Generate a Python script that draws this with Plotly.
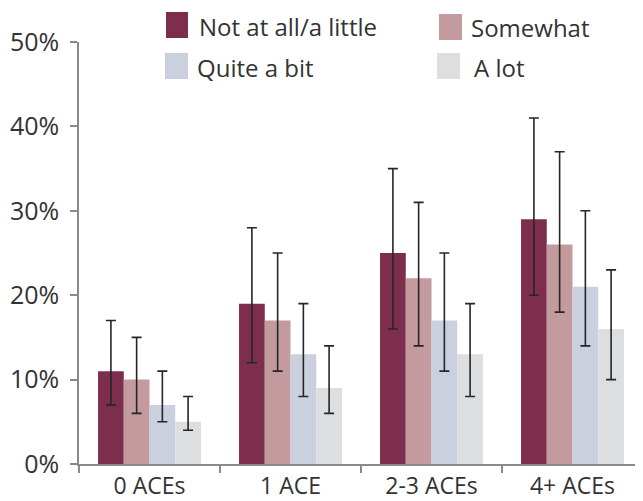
import plotly.graph_objects as go

categories = ["0 ACEs", "1 ACE", "2-3 ACEs", "4+ ACEs"]
series_names = ["Not at all/a little", "Somewhat", "Quite a bit", "A lot"]
colors = ["#7D2E4D", "#C39A9E", "#CAD0DE", "#DDDEE0"]

not_at_all = [11, 19, 25, 29]
not_at_all_hi = [17, 28, 35, 41]
not_at_all_lo = [7, 12, 16, 20]

somewhat = [10, 17, 22, 26]
somewhat_hi = [15, 25, 31, 37]
somewhat_lo = [6, 11, 14, 18]

quite_a_bit = [7, 13, 17, 21]
quite_a_bit_hi = [11, 19, 25, 30]
quite_a_bit_lo = [5, 8, 11, 14]

a_lot = [5, 9, 13, 16]
a_lot_hi = [8, 14, 19, 23]
a_lot_lo = [4, 6, 8, 10]

values = [not_at_all, somewhat, quite_a_bit, a_lot]
highs = [not_at_all_hi, somewhat_hi, quite_a_bit_hi, a_lot_hi]
lows = [not_at_all_lo, somewhat_lo, quite_a_bit_lo, a_lot_lo]

y_ticks = [0, 10, 20, 30, 40, 50]
y_tick_labels = ["0%", "10%", "20%", "30%", "40%", "50%"]

FONT = "Open Sans"
TXT = "#333333"
AX = "#8a8a8a"

# page body has an 8px margin; figure is sized to fit the 643x501 window
OFF = 8
W, H = 643 - OFF, 501 - OFF
ML = 79 - OFF
MT = 42 - OFF
PW = 564
PH = 422
MR = W - ML - PW
MB = H - MT - PH


def px(x):
    return (x - OFF - ML) / PW


def py(y):
    return (MT + PH - (y - OFF)) / PH


fig = go.Figure()
for name, col, v, hi, lo in zip(series_names, colors, values, highs, lows):
    fig.add_trace(go.Bar(
        x=categories, y=v, name=name,
        marker=dict(color=col, line=dict(width=0)),
        error_y=dict(type="data", symmetric=False,
                     array=[h - a for h, a in zip(hi, v)],
                     arrayminus=[a - l for a, l in zip(v, lo)],
                     color="#262626", thickness=1.6, width=5),
        showlegend=False,
    ))

# manual legend (swatch boxes in reference pixels)
legend_items = [
    (series_names[0], colors[0], 166, 12, 188, 38, 197),
    (series_names[1], colors[1], 439, 14, 462, 40, 469),
    (series_names[2], colors[2], 165, 53, 188, 79, 195),
    (series_names[3], colors[3], 437, 53, 460, 79, 472),
]
shapes = []
annotations = []
for name, col, x0, y0, x1, y1, tx in legend_items:
    shapes.append(dict(type="rect", xref="paper", yref="paper",
                       x0=px(x0), x1=px(x1), y0=py(y1), y1=py(y0),
                       fillcolor=col, line=dict(width=0)))
    annotations.append(dict(xref="paper", yref="paper", x=px(tx), y=py((y0 + y1) / 2 + 1),
                            text=name, showarrow=False, xanchor="left", yanchor="middle",
                            font=dict(family=FONT, size=24, color=TXT)))

fig.update_layout(
    width=W, height=H,
    margin=dict(l=ML, r=MR, t=MT, b=MB, autoexpand=False),
    paper_bgcolor="white", plot_bgcolor="white",
    barmode="group", bargap=0.27, bargroupgap=0,
    font=dict(family=FONT, size=24, color=TXT),
    shapes=shapes, annotations=annotations,
    xaxis=dict(
        showline=True, linecolor=AX, linewidth=1.5,
        ticks="outside", tickson="boundaries", ticklen=7, tickcolor=AX, tickwidth=1.5,
        showgrid=False, zeroline=False, automargin=False,
        ticklabelstandoff=1,
        tickfont=dict(family=FONT, size=23, color=TXT),
    ),
    yaxis=dict(
        range=[0, 50], tickvals=y_ticks, ticktext=y_tick_labels,
        showline=True, linecolor=AX, linewidth=1.5,
        ticks="outside", ticklen=7, tickcolor=AX, tickwidth=1.5,
        showgrid=False, zeroline=False, automargin=False,
        ticklabelstandoff=6,
        tickfont=dict(family=FONT, size=25, color=TXT),
    ),
)

fig.write_html("out.html")
